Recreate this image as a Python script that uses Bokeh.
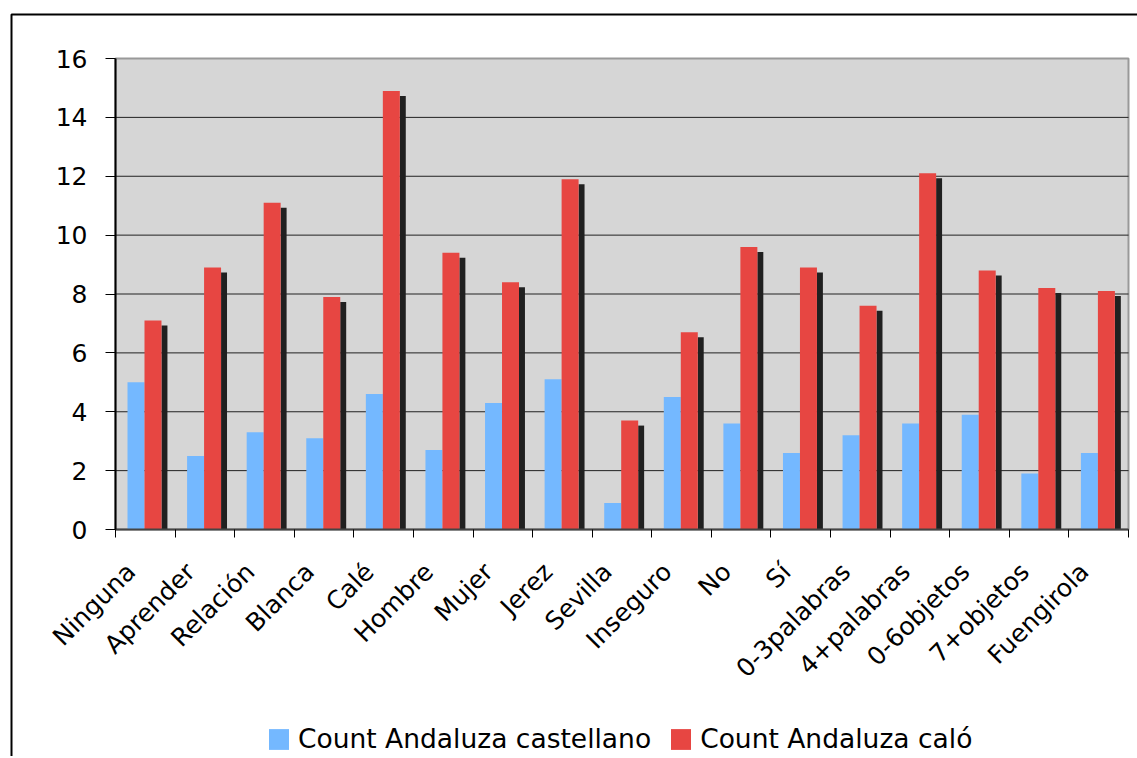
from math import pi
from bokeh.plotting import figure
from bokeh.models import FixedTicker, Legend, LegendItem, BoxAnnotation, Range1d
from bokeh.embed import file_html
from bokeh.resources import INLINE

categories = ["Ninguna", "Aprender", "Relación", "Blanca", "Calé", "Hombre", "Mujer",
              "Jerez", "Sevilla", "Inseguro", "No", "Sí", "0-3palabras", "4+palabras",
              "0-6objetos", "7+objetos", "Fuengirola"]
castellano = [5.0, 2.5, 3.3, 3.1, 4.6, 2.7, 4.3, 5.1, 0.9, 4.5, 3.6, 2.6, 3.2, 3.6, 3.9, 1.9, 2.6]
calo = [7.1, 8.9, 11.1, 7.9, 14.9, 9.4, 8.4, 11.9, 3.7, 6.7, 9.6, 8.9, 7.6, 12.1, 8.8, 8.2, 8.1]
series_names = ["Count Andaluza castellano", "Count Andaluza caló"]
y_ticks = [0, 2, 4, 6, 8, 10, 12, 14, 16]

FONT = "DejaVu Sans"
BLUE = "#74b8ff"
RED = "#e74642"
SHADOW = "#202020"
PLOT_BG = "#d6d6d6"

# canvas geometry (pixels)
W, H = 1137, 756
PX_LEFT, PX_RIGHT, PX_TOP, PX_BOTTOM = 115, 1128, 58, 529

n = len(categories)
x_lo, x_hi = -0.5, n - 0.5
y_lo, y_hi = 0, 16
sx = (PX_RIGHT - PX_LEFT) / (x_hi - x_lo)
sy = (PX_BOTTOM - PX_TOP) / (y_hi - y_lo)

x_range = Range1d(x_lo - PX_LEFT / sx, x_hi + (W - PX_RIGHT) / sx)
y_range = Range1d(y_lo - (H - PX_BOTTOM) / sy, y_hi + PX_TOP / sy)

p = figure(width=W, height=H, x_range=x_range, y_range=y_range,
           output_backend="svg", toolbar_location=None,
           min_border_left=0, min_border_right=0, min_border_top=0, min_border_bottom=0,
           background_fill_color="white", border_fill_color="white",
           outline_line_color=None)
p.grid.visible = False

idx = list(range(n))

# plot area
p.quad(left=[x_lo], right=[x_hi], bottom=[y_lo], top=[y_hi], fill_color=PLOT_BG,
       line_color="#999999", line_width=2)
grid_vals = [t for t in y_ticks if y_lo < t < y_hi]
p.segment(x0=[x_lo] * len(grid_vals), x1=[x_hi] * len(grid_vals), y0=grid_vals,
          y1=grid_vals, line_color="#222222", line_width=1)

# bars (red bars carry a dark drop shadow on the right)
p.vbar(x=[i + 0.3215 for i in idx], top=[v - 5 / sy for v in calo], bottom=0, width=0.1,
       fill_color=SHADOW, line_color=None)
rb = p.vbar(x=[i - 0.156 for i in idx], top=castellano, bottom=0, width=0.285,
            fill_color=BLUE, line_color=None)
rr = p.vbar(x=[i + 0.129 for i in idx], top=calo, bottom=0, width=0.285,
            fill_color=RED, line_color=None)

# y axis
ya = p.yaxis[0]
ya.fixed_location = x_lo
ya.bounds = (y_lo, y_hi)
ya.ticker = FixedTicker(ticks=y_ticks, minor_ticks=[])
ya.axis_line_color = "black"
ya.axis_line_width = 2
ya.major_tick_out = 10
ya.major_tick_in = 0
ya.major_tick_line_color = "black"
ya.minor_tick_line_color = None
ya.major_label_text_font = FONT
ya.major_label_text_font_size = "25px"
ya.major_label_text_color = "black"
ya.major_label_standoff = 18

# x axis
label_pos = [i - 0.24 for i in idx]
xa = p.xaxis[0]
xa.fixed_location = y_lo
xa.bounds = (x_lo, x_hi)
xa.ticker = FixedTicker(ticks=label_pos, minor_ticks=[x_lo + i for i in range(n + 1)])
xa.major_label_overrides = {pos: c for pos, c in zip(label_pos, categories)}
xa.major_label_orientation = pi / 4
xa.major_tick_out = 0
xa.major_tick_in = 0
xa.major_tick_line_color = None
xa.minor_tick_out = 8
xa.minor_tick_in = 0
xa.minor_tick_line_color = "black"
xa.minor_tick_line_width = 1
xa.axis_line_color = "#444444"
xa.axis_line_width = 2
xa.major_label_text_font = FONT
xa.major_label_text_font_size = "25px"
xa.major_label_text_color = "black"
xa.major_label_standoff = 30

# legend
legend = Legend(items=[LegendItem(label=series_names[0], renderers=[rb]),
                       LegendItem(label=series_names[1], renderers=[rr])],
                orientation="horizontal", location=(266, 2),
                label_text_font=FONT, label_text_font_size="26.5px",
                label_text_color="black",
                glyph_width=25, glyph_height=26, label_height=26, label_standoff=7,
                spacing=17, padding=0, margin=0, border_line_color=None,
                background_fill_alpha=0)
p.add_layout(legend)

# outer chart border (left and top edges visible)
border = BoxAnnotation(left=11, right=W + 50, top=14, bottom=H + 50,
                       left_units="canvas", right_units="canvas",
                       top_units="canvas", bottom_units="canvas",
                       fill_alpha=0, line_color="black", line_alpha=1.0,
                       line_width=2, level="overlay")
p.add_layout(border)

open("out.html", "w").write(file_html(p, INLINE))
